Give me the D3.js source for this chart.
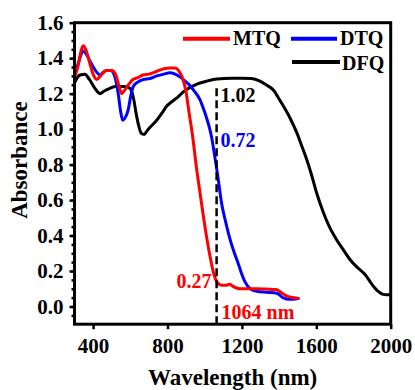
<!DOCTYPE html>
<html>
<head>
<meta charset="utf-8">
<script src="https://cdn.jsdelivr.net/npm/d3@7"></script>
<style>
  body { margin: 0; background: #fff; }
  svg { display: block; }
  text { font-family: "Liberation Serif", "Times New Roman", serif; font-weight: bold; }
</style>
</head>
<body>
<svg id="chart" width="415" height="390"></svg>
<script>
// Absorption spectra (wavelength in nm, absorbance)
const mtqWavelength = [300, 320, 335, 347, 360, 380, 400, 419, 440, 470, 500, 520, 540, 553, 570, 590, 614, 640, 668, 700, 741, 780, 812, 840, 860, 880, 898, 915, 935, 956, 975, 990, 1009, 1031, 1050, 1068, 1090, 1115, 1135, 1150, 1188, 1230, 1280, 1330, 1385, 1415, 1440, 1470, 1500];
const mtqAbsorbance = [1.29, 1.36, 1.44, 1.47, 1.45, 1.38, 1.31, 1.28, 1.30, 1.33, 1.33, 1.31, 1.24, 1.20, 1.22, 1.25, 1.28, 1.29, 1.305, 1.31, 1.325, 1.34, 1.345, 1.345, 1.33, 1.29, 1.22, 1.10, 0.96, 0.78, 0.64, 0.53, 0.40, 0.27, 0.18, 0.135, 0.12, 0.12, 0.125, 0.115, 0.10, 0.10, 0.10, 0.098, 0.095, 0.075, 0.06, 0.05, 0.047];

const dtqWavelength = [300, 320, 335, 347, 365, 385, 401, 420, 437, 455, 473, 495, 512, 525, 535, 548, 559, 570, 589, 603, 616, 640, 670, 706, 742, 780, 813, 840, 867, 890, 912, 940, 975, 995, 1011, 1025, 1038, 1052, 1064, 1075, 1091, 1112, 1136, 1160, 1181, 1200, 1216, 1245, 1280, 1330, 1387, 1420, 1459, 1503];
const dtqAbsorbance = [1.31, 1.37, 1.42, 1.44, 1.42, 1.38, 1.35, 1.32, 1.305, 1.32, 1.33, 1.33, 1.31, 1.26, 1.20, 1.10, 1.05, 1.06, 1.11, 1.19, 1.24, 1.265, 1.28, 1.285, 1.30, 1.31, 1.318, 1.31, 1.295, 1.275, 1.255, 1.22, 1.165, 1.11, 1.06, 1.01, 0.95, 0.86, 0.78, 0.70, 0.58, 0.48, 0.38, 0.30, 0.24, 0.18, 0.14, 0.10, 0.085, 0.08, 0.075, 0.05, 0.04, 0.045];

const dfqWavelength = [300, 315, 330, 356, 380, 410, 437, 460, 491, 520, 562, 590, 605, 618, 631, 645, 660, 675, 690, 706, 742, 770, 796, 830, 860, 885, 921, 950, 975, 1010, 1046, 1100, 1154, 1200, 1250, 1297, 1330, 1369, 1400, 1423, 1460, 1495, 1520, 1548, 1575, 1602, 1638, 1670, 1710, 1745, 1781, 1820, 1853, 1870, 1889, 1910, 1933, 1955, 1978, 2000];
const dfqAbsorbance = [1.26, 1.29, 1.305, 1.31, 1.28, 1.23, 1.20, 1.215, 1.23, 1.24, 1.24, 1.235, 1.22, 1.17, 1.09, 1.02, 0.975, 0.97, 0.99, 1.01, 1.05, 1.09, 1.13, 1.16, 1.185, 1.21, 1.235, 1.25, 1.26, 1.27, 1.28, 1.285, 1.287, 1.287, 1.285, 1.27, 1.25, 1.22, 1.17, 1.13, 1.06, 0.98, 0.91, 0.83, 0.74, 0.64, 0.53, 0.45, 0.375, 0.32, 0.265, 0.22, 0.19, 0.17, 0.14, 0.11, 0.085, 0.07, 0.066, 0.068];

const seriesNames = ["MTQ", "DTQ", "DFQ"];
const seriesColors = ["#ff0000", "#0000ff", "#000000"];

const xTicks = [400, 800, 1200, 1600, 2000];
const yTicks = [0.0, 0.2, 0.4, 0.6, 0.8, 1.0, 1.2, 1.4, 1.6];
const yMinorTicks = d3.range(-0.05, 1.6, 0.05);

// Absorbance of each sample at the 1064 nm laser line
const laserWavelength = 1064;
const laserLabels = ["0.27", "0.72", "1.02"];

const svg = d3.select("#chart");
const W = 415, H = 390;
const margin = { left: 74.5, top: 22.7, right: 24.3, bottom: 65.8 };
const iw = W - margin.left - margin.right;
const ih = H - margin.top - margin.bottom;

const x = d3.scaleLinear().domain([300, 2000]).range([margin.left, margin.left + iw]);
const y = d3.scaleLinear().domain([-0.1, 1.6]).range([margin.top + ih, margin.top]);

svg.append("defs").append("clipPath").attr("id", "plot-clip")
  .append("rect").attr("x", margin.left).attr("y", margin.top).attr("width", iw).attr("height", ih);

// Axes
const fontSize = 20;
const tickFont = 21;
const xAxis = svg.append("g")
  .attr("transform", `translate(0,${margin.top + ih})`)
  .call(d3.axisBottom(x).tickValues(xTicks).tickSize(5).tickPadding(9).tickFormat(d3.format("d")));
const yAxis = svg.append("g")
  .attr("transform", `translate(${margin.left},0)`)
  .call(d3.axisLeft(y).tickValues(yTicks).tickSize(5).tickPadding(6).tickFormat(d3.format(".1f")));
svg.append("g")
  .attr("transform", `translate(${margin.left},0)`)
  .call(d3.axisLeft(y).tickValues(yMinorTicks).tickSize(3).tickFormat(""))
  .call(g => g.select(".domain").remove());

[xAxis, yAxis].forEach(g => {
  g.select(".domain").remove();
  g.selectAll(".tick text").attr("fill", "#000")
    .style("font-size", tickFont + "px")
    .style("font-family", "'Liberation Serif','Times New Roman',serif")
    .style("font-weight", "bold");
});
svg.selectAll("g .tick line").attr("stroke", "#000").attr("stroke-width", 2.5);

// Spectra
const line = d3.line()
  .x(d => x(d[0]))
  .y(d => y(d[1]))
  .curve(d3.curveMonotoneX);

const series = [
  d3.zip(mtqWavelength, mtqAbsorbance),
  d3.zip(dtqWavelength, dtqAbsorbance),
  d3.zip(dfqWavelength, dfqAbsorbance)
];

const plot = svg.append("g").attr("clip-path", "url(#plot-clip)");
// black first, then blue, then red on top
[2, 1, 0].forEach(i => {
  plot.append("path")
    .datum(series[i])
    .attr("fill", "none")
    .attr("stroke", seriesColors[i])
    .attr("stroke-width", 3)
    .attr("stroke-linejoin", "round")
    .attr("stroke-linecap", "round")
    .attr("d", line);
});

// 1064 nm marker
const lx = x(laserWavelength);
svg.append("line")
  .attr("x1", lx).attr("x2", lx)
  .attr("y1", y(1.23)).attr("y2", y(-0.1))
  .attr("stroke", "#000")
  .attr("stroke-width", 2.5)
  .attr("stroke-dasharray", "8,4");

const ann = svg.append("g").style("font-size", fontSize + "px");
ann.append("text").attr("x", lx - 5).attr("y", 288).attr("text-anchor", "end")
  .attr("fill", seriesColors[0]).text(laserLabels[0]);
ann.append("text").attr("x", lx + 4).attr("y", 146.5)
  .attr("fill", seriesColors[1]).text(laserLabels[1]);
ann.append("text").attr("x", lx + 4).attr("y", 102)
  .attr("fill", seriesColors[2]).text(laserLabels[2]);
ann.append("text").attr("x", lx + 5).attr("y", 319)
  .attr("fill", seriesColors[0]).text(laserWavelength + " nm");

// Frame
svg.append("rect")
  .attr("x", margin.left).attr("y", margin.top)
  .attr("width", iw).attr("height", ih)
  .attr("fill", "none").attr("stroke", "#000").attr("stroke-width", 3);

// Legend
const legendItems = [
  { x1: 183, x2: 230, y: 38.7, tx: 233, ty: 45 },
  { x1: 291, x2: 337, y: 38.7, tx: 340, ty: 45 },
  { x1: 292, x2: 340, y: 62, tx: 342, ty: 69.5 }
];
const legend = svg.append("g").style("font-size", fontSize + "px");
legendItems.forEach((p, i) => {
  legend.append("line")
    .attr("x1", p.x1).attr("x2", p.x2).attr("y1", p.y).attr("y2", p.y)
    .attr("stroke", seriesColors[i]).attr("stroke-width", 4);
  legend.append("text").attr("x", p.tx).attr("y", p.ty).attr("fill", "#000").text(seriesNames[i]);
});

// Axis titles
svg.append("text")
  .attr("x", margin.left + iw / 2).attr("y", 385)
  .attr("text-anchor", "middle")
  .style("font-size", "23px")
  .text("Wavelength (nm)");
svg.append("text")
  .attr("transform", "translate(27,160) rotate(-90)")
  .attr("text-anchor", "middle")
  .style("font-size", "23px")
  .text("Absorbance");
</script>
</body>
</html>
